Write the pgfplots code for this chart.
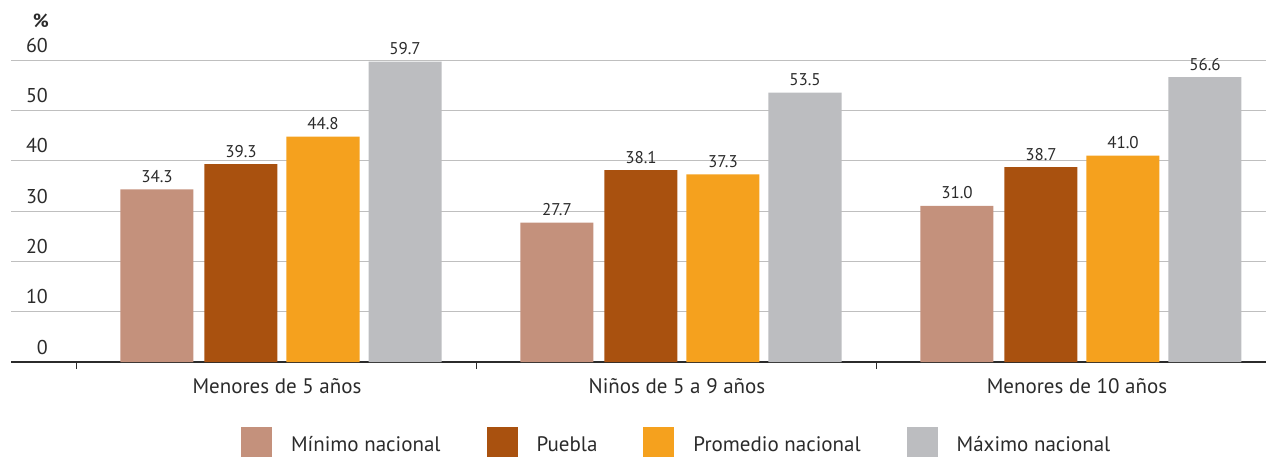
\documentclass[border=0pt]{standalone}
\usepackage{fontspec}
\setmainfont{PT Sans}
\usepackage{pgfplots}
\pgfplotsset{compat=1.18}
\definecolor{cmin}{HTML}{C4917C}
\definecolor{cpue}{HTML}{A9510F}
\definecolor{cprom}{HTML}{F5A11E}
\definecolor{cmax}{HTML}{BCBDC0}
\definecolor{txt}{HTML}{2B2B2B}
\definecolor{grid}{HTML}{555555}
\newcommand{\numfont}{\fontsize{17}{20}\selectfont}
\newcommand{\tickfont}{\fontsize{20}{24}\selectfont}
\newcommand{\labfont}{\fontsize{21}{25}\selectfont}
\begin{document}
\begin{tikzpicture}
\begin{axis}[
  at={(11pt,94pt)}, anchor=south west,
  scale only axis, width=1255pt, height=302pt,
  xmin=-0.665, xmax=2.4725, ymin=0, ymax=60,
  font=\numfont, color=txt,
  /pgf/number format/assume math mode=true,
  axis x line*=bottom, axis y line*=left,
  x axis line style={-, line width=2.2pt, color=txt},
  y axis line style={draw=none},
  ytick={0,10,...,60}, ymajorgrids=true, xmajorgrids=false, xminorgrids=false, yminorgrids=false,
  major grid style={grid, line width=1pt},
  yticklabel style={anchor=base east, inner sep=0pt, xshift=37pt, yshift=8pt, font=\tickfont, color=txt},
  major y tick style={draw=none},
  xtick={0,1,2},
  xticklabels={Menores de 5 años, Niños de 5 a 9 años, Menores de 10 años},
  xticklabel style={anchor=base, inner sep=0pt, yshift=-31pt, font=\labfont, color=txt},
  major x tick style={draw=none},
  major tick length=0pt,
  minor xtick={-0.5,0.5,1.5},
  minor tick length=7pt, tick align=outside,
  minor x tick style={line width=1pt, color=txt},
  clip=false,
  legend columns=4,
  legend cell align=left,
  legend style={at={(rel axis cs:0.1833,-0.2152)}, anchor=north west, draw=none, inner sep=0pt, outer sep=0pt,
    font=\labfont, text=txt,
    cells={anchor=base west, inner sep=0pt},
    /tikz/every odd column/.append style={column sep=17pt},
    /tikz/every even column/.append style={column sep=44pt}},
  legend image code/.code={\fill[#1] (0pt,-6pt) rectangle (31pt,25pt);},
  nodes near coords,
  every node near coord/.append style={anchor=base, inner sep=0pt, yshift=7pt, color=txt, font=\numfont,
     /pgf/number format/fixed, /pgf/number format/fixed zerofill, /pgf/number format/precision=1},
]
\addplot[ybar, bar width=73pt, bar shift=-120pt, fill=cmin, draw=none,
  every node near coord/.append style={xshift=-120pt}] coordinates {(0,34.3) (1,27.7) (2,31.0)};
\addplot[ybar, bar width=73pt, bar shift=-36pt, fill=cpue, draw=none,
  every node near coord/.append style={xshift=-36pt}] coordinates {(0,39.3) (1,38.1) (2,38.7)};
\addplot[ybar, bar width=73pt, bar shift=46pt, fill=cprom, draw=none,
  every node near coord/.append style={xshift=46pt}] coordinates {(0,44.8) (1,37.3) (2,41.0)};
\addplot[ybar, bar width=73pt, bar shift=128pt, fill=cmax, draw=none,
  every node near coord/.append style={xshift=128pt}] coordinates {(0,59.7) (1,53.5) (2,56.6)};
\legend{Mínimo nacional, Puebla, Promedio nacional, Máximo nacional}
\node[anchor=base east, inner sep=0pt, font=\fontsize{19}{22}\selectfont\bfseries, text=txt] at (rel axis cs:0,1) [xshift=38pt, yshift=33pt] {\%};
\end{axis}
\pgfresetboundingbox
\path[use as bounding box] (0,0) rectangle (1266pt,456pt);
\end{tikzpicture}
\end{document}
